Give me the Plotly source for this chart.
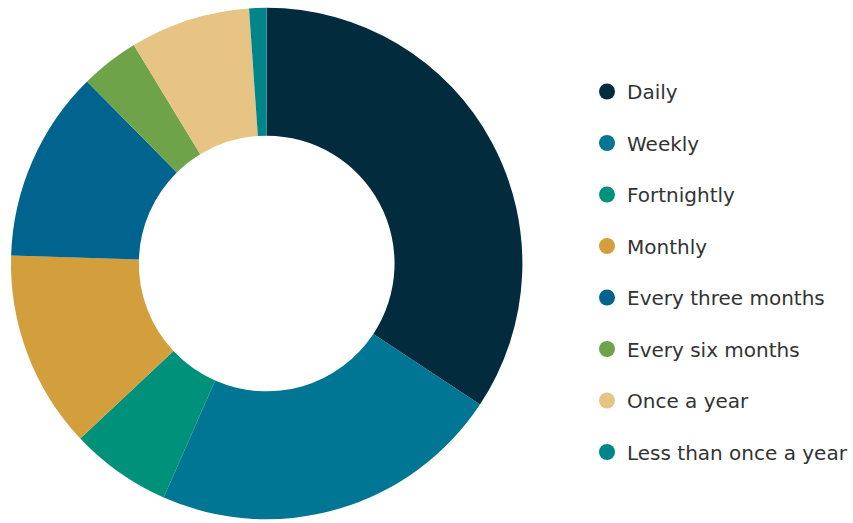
import plotly.graph_objects as go

categories = ["Daily", "Weekly", "Fortnightly", "Monthly", "Every three months",
              "Every six months", "Once a year", "Less than once a year"]
values = [34.3, 22.3, 6.4, 12.5, 12.1, 3.7, 7.6, 1.1]
colors = ["#022c3e", "#007594", "#00917a", "#d39f3c", "#00648f",
          "#6fa34a", "#e8c484", "#00858b"]

W, H = 853, 523
fig = go.Figure()
fig.add_trace(go.Pie(
    labels=categories, values=values, sort=False, direction="clockwise",
    rotation=0, hole=0.5, textinfo="none", showlegend=False,
    marker=dict(colors=colors, line=dict(width=0)),
    domain=dict(x=[11 / W, 523 / W], y=[(H - 519.5) / H, (H - 7.5) / H]),
))
for i, (c, col) in enumerate(zip(categories, colors)):
    fig.add_trace(go.Scatter(
        x=[None], y=[None], mode="markers", name=c, legendgroup=f"g{i}",
        marker=dict(color=col, size=19, symbol="circle"), showlegend=True,
    ))

fig.update_layout(
    width=W, height=H, margin=dict(l=0, r=0, t=0, b=0),
    paper_bgcolor="white", plot_bgcolor="white",
    xaxis=dict(visible=False), yaxis=dict(visible=False),
    font=dict(family="DejaVu Sans, Verdana, sans-serif", size=20, color="#333333"),
    legend=dict(x=588 / W, y=(H - 72) / H, xanchor="left", yanchor="top",
                traceorder="grouped", tracegroupgap=22.5, itemsizing="trace",
                bgcolor="rgba(0,0,0,0)"),
)
fig.write_html("out.html")
